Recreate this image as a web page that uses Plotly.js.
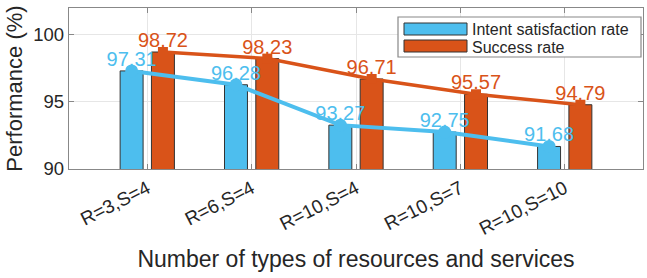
<!DOCTYPE html>
<html>
<head>
<meta charset="utf-8">
<script src="https://cdn.plot.ly/plotly-3.0.1.min.js"></script>
<style>html,body{margin:0;padding:0;background:#fff;}#chart{width:647px;height:278px;}</style>
</head>
<body>
<div id="chart"></div>
<script>
const categories = ["R=3,S=4", "R=6,S=4", "R=10,S=4", "R=10,S=7", "R=10,S=10"];
const intentRate = [97.31, 96.28, 93.27, 92.75, 91.68];
const successRate = [98.72, 98.23, 96.71, 95.57, 94.79];
const seriesNames = ["Intent satisfaction rate", "Success rate"];

const BLUE = "#4DBEEE", ORANGE = "#D95319";
const FONT = "Liberation Sans, Arial, Helvetica, sans-serif";
const idx = categories.map((c, i) => i + 1);
const shift = 0.15;

// plot area geometry (pixels) for the hand-drawn legend
const M = {l: 69, r: 4, t: 8, b: 109};
const PW = 647 - M.l - M.r, PH = 278 - M.t - M.b;
const px = x => (x - M.l) / PW;
const py = y => (278 - M.b - y) / PH;

const traces = [
  {type: "bar", x: idx, y: intentRate, name: seriesNames[0], width: 0.22, offset: -0.26,
   marker: {color: BLUE, line: {color: "#333333", width: 1}}, hoverinfo: "y", showlegend: false},
  {type: "bar", x: idx, y: successRate, name: seriesNames[1], width: 0.22, offset: 0.04,
   marker: {color: ORANGE, line: {color: "#333333", width: 1}}, hoverinfo: "y", showlegend: false},
  {type: "scatter", mode: "lines+markers", x: idx.map(v => v - shift), y: intentRate, showlegend: false,
   line: {color: BLUE, width: 4}, marker: {symbol: "circle", size: 13, color: BLUE}},
  {type: "scatter", mode: "lines+markers", x: idx.map(v => v + shift), y: successRate, showlegend: false,
   line: {color: ORANGE, width: 3.5}, marker: {symbol: "square", size: 10, color: ORANGE}},
  {type: "scatter", mode: "text", x: idx.map(v => v - shift), y: intentRate, showlegend: false,
   text: intentRate.map(v => v.toFixed(2)), textposition: "top center", marker: {size: 3},
   textfont: {color: BLUE, size: 20, family: FONT}, cliponaxis: false},
  {type: "scatter", mode: "text", x: idx.map(v => v + shift), y: successRate, showlegend: false,
   text: successRate.map(v => v.toFixed(2)), textposition: "top center", marker: {size: 3},
   textfont: {color: ORANGE, size: 20, family: FONT}, cliponaxis: false}
];

const legendShapes = [
  {type: "rect", xref: "paper", yref: "paper", x0: px(398), x1: px(641), y0: py(57), y1: py(17),
   fillcolor: "#fff", line: {color: "#888", width: 1.2}, layer: "above"},
  {type: "rect", xref: "paper", yref: "paper", x0: px(404), x1: px(467), y0: py(35), y1: py(23),
   fillcolor: BLUE, line: {color: "#333", width: 1}, layer: "above"},
  {type: "rect", xref: "paper", yref: "paper", x0: px(404), x1: px(467), y0: py(52), y1: py(40),
   fillcolor: ORANGE, line: {color: "#333", width: 1}, layer: "above"}
];
const legendText = [
  {xref: "paper", yref: "paper", x: px(471), y: py(29), xanchor: "left", yanchor: "middle",
   text: seriesNames[0], showarrow: false, borderpad: 0,
   font: {size: 16, family: FONT, color: "#262626"}},
  {xref: "paper", yref: "paper", x: px(471), y: py(47.5), xanchor: "left", yanchor: "middle",
   text: seriesNames[1], showarrow: false, borderpad: 0,
   font: {size: 16, family: FONT, color: "#262626"}}
];

const layout = {
  width: 647, height: 278,
  margin: M,
  paper_bgcolor: "#fff", plot_bgcolor: "#fff",
  font: {family: FONT, color: "#262626", size: 17},
  barmode: "overlay",
  showlegend: false,
  shapes: legendShapes,
  annotations: legendText,
  xaxis: {range: [0.25, 5.75], tickvals: idx, ticktext: categories, tickangle: -27,
    tickfont: {size: 19}, showgrid: true, gridcolor: "#e6e6e6", zeroline: false,
    showline: true, linecolor: "#888", linewidth: 1.2, mirror: "ticks",
    ticks: "inside", ticklen: 5, tickcolor: "#888",
    title: {text: "Number of types of resources and services", font: {size: 23}, standoff: 12}},
  yaxis: {range: [90, 102], tickvals: [90, 95, 100], tickfont: {size: 18.5},
    showgrid: true, gridcolor: "#e6e6e6", zeroline: false,
    showline: true, linecolor: "#888", linewidth: 1.2, mirror: "ticks",
    ticks: "inside", ticklen: 5, tickcolor: "#888",
    title: {text: "Performance (%)", font: {size: 22}, standoff: 4}}
};

Plotly.newPlot("chart", traces, layout, {displayModeBar: false, staticPlot: true});
</script>
</body>
</html>
